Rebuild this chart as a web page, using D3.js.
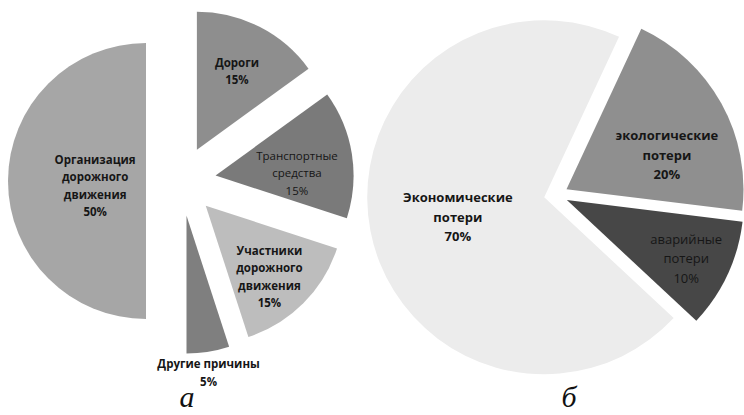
<!DOCTYPE html>
<html>
<head>
<meta charset="utf-8">
<script src="https://cdn.jsdelivr.net/npm/d3@7"></script>
<style>
  html, body { margin: 0; padding: 0; background: #fff; }
  svg { display: block; }
</style>
</head>
<body>
<svg id="chart" width="744" height="415"></svg>
<script>
// Panel а: causes of road accidents
const causeNames = [
  ["Дороги"],
  ["Транспортные", "средства"],
  ["Участники", "дорожного", "движения"],
  ["Другие причины"],
  ["Организация", "дорожного", "движения"]
];
const causeValues = [15, 15, 15, 5, 50];

// Panel б: structure of losses
const lossNames = [
  ["Экономические", "потери"],
  ["экологические", "потери"],
  ["аварийные", "потери"]
];
const lossValues = [70, 20, 10];

const panelLetters = ["а", "б"];

const deg = Math.PI / 180;

// Geometry and styling of each exploded pie
const panels = [
  {
    names: causeNames, values: causeValues, letter: panelLetters[0],
    cx: 181, cy: 181, r: 138, explode: 35, start: 0,
    colors: ["#8e8e8e", "#7a7a7a", "#bdbdbd", "#7f7f7f", "#a6a6a6"],
    weights: ["bold", "normal", "bold", "bold", "bold"],
    // label placement: [angle shift in degrees, distance as share of radius]
    labelPlace: [[0, 0.64], [7, 0.59], [3, 0.69], [1, 1.15], [-5, 0.37]],
    fontSize: 11.5, lineH: 17.5, letterX: 187
  },
  {
    names: lossNames, values: lossValues, letter: panelLetters[1],
    cx: 556, cy: 195, r: 177, explode: 12, start: 133,
    colors: ["#ececec", "#8f8f8f", "#474747"],
    weights: ["bold", "bold", "normal"],
    labelPlace: [[-1.6, 0.50], [10, 0.60], [1, 0.75]],
    fontSize: 13, lineH: 19.5, letterX: 569
  }
];

const svg = d3.select("#chart");

panels.forEach(p => {
  const pie = d3.pie()
    .sort(null)
    .value(d => d)
    .startAngle(p.start * deg)
    .endAngle((p.start + 360) * deg);
  const arcs = pie(p.values);
  const arc = d3.arc().innerRadius(0).outerRadius(p.r);

  const g = svg.append("g").attr("transform", `translate(${p.cx},${p.cy})`);

  arcs.forEach((a, i) => {
    const mid = (a.startAngle + a.endAngle) / 2;
    const tx = Math.sin(mid) * p.explode;
    const ty = -Math.cos(mid) * p.explode;

    g.append("path")
      .attr("d", arc(a))
      .attr("transform", `translate(${tx},${ty})`)
      .attr("fill", p.colors[i]);

    const [shift, frac] = p.labelPlace[i];
    const la = mid + shift * deg;
    const lx = tx + Math.sin(la) * p.r * frac;
    const ly = ty - Math.cos(la) * p.r * frac;

    const lines = p.names[i].concat([`${p.values[i]}%`]);
    const t = g.append("text")
      .attr("text-anchor", "middle")
      .attr("font-family", "'Open Sans', 'Noto Sans', sans-serif")
      .attr("font-size", p.fontSize)
      .attr("font-weight", p.weights[i])
      .attr("fill", "#161616");
    lines.forEach((s, k) => {
      t.append("tspan")
        .attr("x", lx)
        .attr("y", ly + (k - (lines.length - 1) / 2) * p.lineH)
        .attr("dominant-baseline", "central")
        .text(s);
    });
  });

  svg.append("text")
    .attr("x", p.letterX)
    .attr("y", 407)
    .attr("text-anchor", "middle")
    .attr("font-family", "'Liberation Serif', 'Times New Roman', serif")
    .attr("font-style", "italic")
    .attr("font-size", 30)
    .attr("fill", "#111")
    .text(p.letter);
});
</script>
</body>
</html>
